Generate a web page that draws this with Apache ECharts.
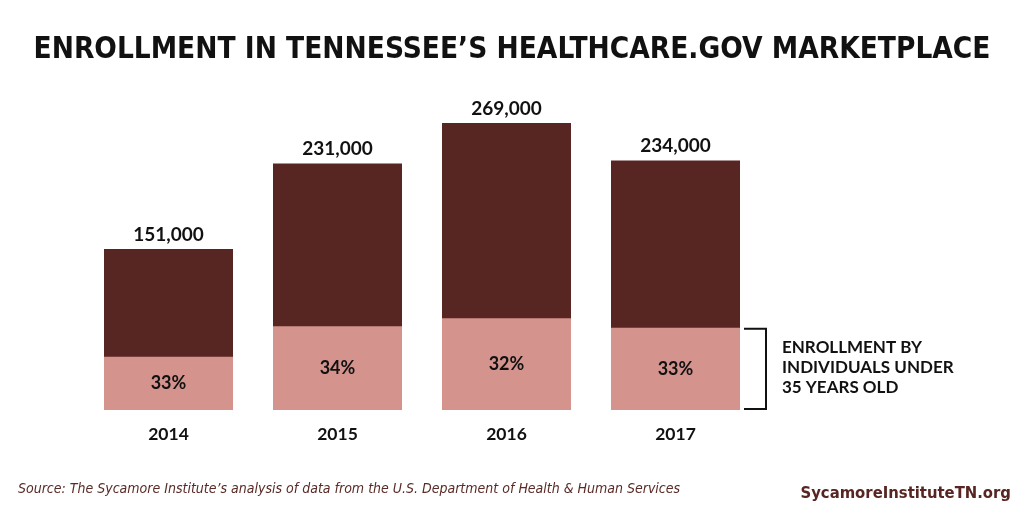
<!DOCTYPE html>
<html><head><meta charset="utf-8">
<script src="https://cdn.jsdelivr.net/npm/echarts@6/dist/echarts.min.js"></script>
<style>html,body{margin:0;padding:0;background:#fff}#c{width:1024px;height:512px}</style>
</head><body><div id="c"></div>
<script>
const years = ['2014', '2015', '2016', '2017'];
const totals = [151000, 231000, 269000, 234000];
const under35 = [49830, 78540, 86080, 77220];
const sharesPct = [33, 34, 32, 33];

const DARK = '#582622', LIGHT = '#d4948d';
const COND = '"DejaVu Sans Condensed", "Roboto", sans-serif';
const chart = echarts.init(document.getElementById('c'));
const fmt = v => v.toLocaleString('en-US');
chart.setOption({
  animation: false,
  backgroundColor: '#fff',
  title: {
    text: 'ENROLLMENT IN TENNESSEE\u2019S HEALTHCARE.GOV MARKETPLACE',
    left: 'center', top: 30,
    textStyle: { fontFamily: COND, fontWeight: 'bold', fontSize: 29.5, color: '#111' }
  },
  grid: { left: 84, right: 264, top: 90, bottom: 102 },
  xAxis: {
    type: 'category', data: years,
    axisLine: { show: false }, axisTick: { show: false },
    axisLabel: { margin: 15, fontFamily: 'Lato', fontWeight: 'bold', fontSize: 17.5, color: '#111' }
  },
  yAxis: { type: 'value', min: 0, max: 300000, show: false, splitLine: { show: false } },
  series: [
    {
      type: 'bar', data: totals, barWidth: 129, barGap: '-100%',
      itemStyle: { color: DARK },
      label: { show: true, position: 'top', distance: 5, formatter: p => fmt(p.value),
        fontFamily: 'Lato', fontWeight: 'bold', fontSize: 19, color: '#111' }
    },
    {
      type: 'bar', data: under35, barWidth: 129, barGap: '-100%',
      itemStyle: { color: LIGHT },
      label: { show: true, position: 'inside', formatter: p => sharesPct[p.dataIndex] + '%',
        fontFamily: 'Lato', fontWeight: 'bold', fontSize: 18, color: '#111' }
    }
  ]
});

const last = years.length - 1;
const pTop = chart.convertToPixel({ gridIndex: 0 }, [last, under35[last]]);
const pBot = chart.convertToPixel({ gridIndex: 0 }, [last, 0]);
const bx = pTop[0] + 129 / 2 + 4, bw = 22;
chart.setOption({
  graphic: [
    { type: 'polyline', shape: { points: [[bx, pTop[1] + 1], [bx + bw, pTop[1] + 1], [bx + bw, pBot[1] - 1], [bx, pBot[1] - 1]] },
      style: { stroke: '#111', lineWidth: 2, fill: null } },
    { type: 'text', left: bx + bw + 16, top: (pTop[1] + pBot[1]) / 2 - 31,
      style: { text: 'ENROLLMENT BY\nINDIVIDUALS UNDER\n35 YEARS OLD', fontFamily: 'Lato', fontWeight: 'bold', fontSize: 17, lineHeight: 20, fill: '#111' } },
    { type: 'text', left: 18, top: 482,
      style: { text: 'Source: The Sycamore Institute\u2019s analysis of data from the U.S. Department of Health & Human Services',
        fontFamily: COND, fontStyle: 'italic', fontSize: 14, fill: '#5a2a25' } },
    { type: 'text', right: 13, top: 485,
      style: { text: 'SycamoreInstituteTN.org', fontFamily: COND, fontWeight: 'bold', fontSize: 16.5, fill: DARK } }
  ]
});
</script></body></html>
